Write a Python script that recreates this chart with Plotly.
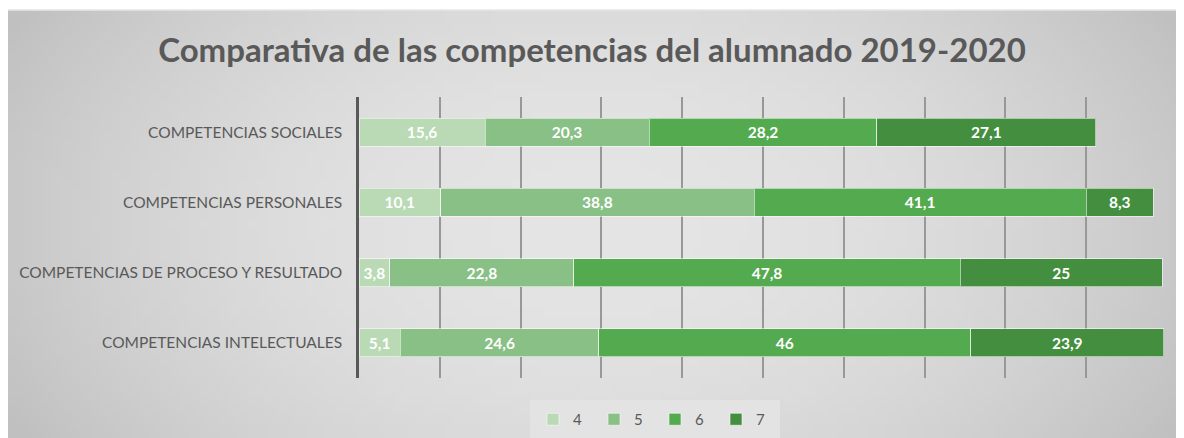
#comparativa de competencias del alumnado 2019-2020 as stacked horizontal bars

import base64
import struct
import zlib

import numpy as np
import plotly.graph_objs as go

categories = [
    'COMPETENCIAS INTELECTUALES',
    'COMPETENCIAS DE PROCESO Y RESULTADO',
    'COMPETENCIAS PERSONALES',
    'COMPETENCIAS SOCIALES',
]
series_names = ['4', '5', '6', '7']
values_4 = [5.1, 3.8, 10.1, 15.6]
values_5 = [24.6, 22.8, 38.8, 20.3]
values_6 = [46, 47.8, 41.1, 28.2]
values_7 = [23.9, 25, 8.3, 27.1]

colors = ['#b9dab4', '#88c086', '#53aa4f', '#448f3f']
font_gray = '#595959'


def label(v):
    # excel style decimal comma
    return ('%g' % v).replace('.', ',')


def gradient_png(w=120, h=44):
    # soft radial-ish gray background like the excel chart area
    xs = np.linspace(-1, 1, w)
    ys = np.linspace(-1, 1, h)
    dx, dy = np.meshgrid(xs, ys)
    img = (229 - 28 * dx ** 2 - 9 * dy ** 2).clip(0, 255).astype(np.uint8)
    raw = b''.join(b'\x00' + row.tobytes() for row in img)

    def chunk(tag, data):
        c = struct.pack('>I', len(data)) + tag + data
        return c + struct.pack('>I', zlib.crc32(tag + data) & 0xffffffff)

    png = b'\x89PNG\r\n\x1a\n'
    png += chunk(b'IHDR', struct.pack('>IIBBBBB', w, h, 8, 0, 0, 0, 0))
    png += chunk(b'IDAT', zlib.compress(raw))
    png += chunk(b'IEND', b'')
    return 'data:image/png;base64,' + base64.b64encode(png).decode()


fig = go.Figure()
for name, vals, col in zip(series_names, [values_4, values_5, values_6, values_7], colors):
    fig.add_trace(go.Bar(
        y=categories,
        x=vals,
        name=name,
        orientation='h',
        width=0.4,
        marker=dict(color=col, line=dict(color='rgba(255,255,255,0.55)', width=1)),
        text=[label(v) for v in vals],
        textposition='inside',
        insidetextanchor='middle',
        textangle=0,
        constraintext='none',
        textfont=dict(family='Lato', size=15.5, color='white', weight='bold'),
        hoverinfo='x+y+name',
    ))

# the page body adds an 8px margin, so the figure is 8px smaller than the window
# plot area in figure pixels: x 351..1158.6, y 89..370
W, H = 1176, 430
L, R, T, B = 351, 1158.6, 89, 370
pw, ph = R - L, B - T
top_edge = 2

fig.update_layout(
    width=W,
    height=H,
    barmode='stack',
    paper_bgcolor='white',
    plot_bgcolor='rgba(0,0,0,0)',
    margin=dict(l=L, r=W - R, t=T, b=H - B, autoexpand=False),
    font=dict(family='Lato', color=font_gray),
    title=dict(
        text='<b>Comparativa de las competencias del alumnado 2019-2020</b>',
        font=dict(family='Lato', size=33, color=font_gray),
        xref='container', x=584 / W, xanchor='center',
        yref='container', y=(H - 42) / H, yanchor='middle',
    ),
    xaxis=dict(
        range=[0, 100],
        dtick=10,
        showticklabels=False,
        showgrid=True,
        gridcolor='#989898',
        gridwidth=1.5,
        zeroline=False,
        showline=False,
        fixedrange=True,
    ),
    yaxis=dict(
        categoryorder='array',
        categoryarray=categories,
        range=[-0.5, 3.5],
        showline=True,
        linecolor='#595959',
        linewidth=2.5,
        showgrid=False,
        ticks='',
        ticklabelstandoff=11,
        tickfont=dict(family='Lato', size=15.5, color=font_gray),
        fixedrange=True,
    ),
    legend=dict(
        orientation='h',
        traceorder='normal',
        xref='container', x=647 / W, xanchor='center',
        yref='container', y=(H - 392) / H, yanchor='top',
        bgcolor='#e3e3e3',
        bordercolor='#e3e3e3',
        borderwidth=3,
        font=dict(family='Lato', size=15, color=font_gray),
        entrywidth=16,
        entrywidthmode='pixels',
        itemwidth=30,
    ),
    images=[dict(
        source=gradient_png(),
        xref='paper', yref='paper',
        x=-L / pw, y=(B - top_edge) / ph,
        sizex=W / pw, sizey=(H - top_edge) / ph,
        xanchor='left', yanchor='top',
        sizing='stretch',
        layer='below',
    )],
    shapes=[dict(
        type='line', xref='paper', yref='paper',
        x0=-L / pw, x1=(W - L) / pw,
        y0=(B - top_edge) / ph, y1=(B - top_edge) / ph,
        line=dict(color='#e6e6e6', width=1.5),
        layer='below',
    )],
    showlegend=True,
)

fig.write_html('out.html')
